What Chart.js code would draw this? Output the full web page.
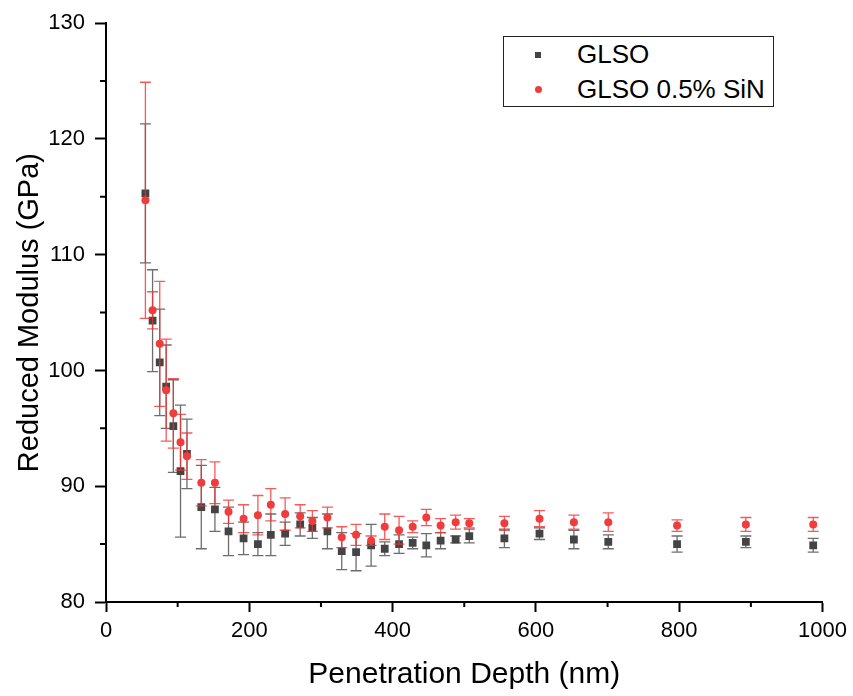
<!DOCTYPE html>
<html>
<head>
<meta charset="utf-8">
<script src="https://cdn.jsdelivr.net/npm/chart.js@4.4.0/dist/chart.umd.min.js"></script>
<style>
  body { margin: 0; background: #fff; }
  #wrap { position: relative; width: 853px; height: 696px; }
  .legend {
    position: absolute; left: 503px; top: 36px; width: 271px; height: 71px;
    border: 1px solid #222; box-sizing: border-box; background: #fff;
    font-family: 'Liberation Sans', Arial, sans-serif; font-size: 26px; color: #000;
  }
  .legend .txt { position: absolute; left: 73px; height: 30px; line-height: 30px; white-space: nowrap; }
  .legend .sq { position: absolute; left: 31px; width: 6px; height: 6px; background: #444; }
  .legend .dot { position: absolute; left: 31px; width: 7px; height: 7px; border-radius: 50%; background: #f03c3c; }
</style>
</head>
<body>
<div id="wrap">
  <canvas id="modulusChart" width="853" height="696"></canvas>
  <div class="legend">
    <span class="sq" style="top:15px"></span><span class="txt" style="top:2px">GLSO</span>
    <span class="dot" style="top:49px"></span><span class="txt" style="top:37px">GLSO 0.5% SiN</span>
  </div>
</div>
<script>
// penetration depth (nm), shared by both samples
const depth = [55, 65, 75, 84, 94, 104, 113, 133, 152, 171, 192, 212, 230, 250, 271, 288, 309,
  329, 349, 370, 389, 409, 428, 447, 467, 488, 507, 556, 605, 653, 701, 797, 893, 987];

// reduced modulus (GPa) and standard deviation
const glsoModulus = [115.3, 104.3, 100.7, 98.6, 95.2, 91.3, 92.8, 88.2, 88.0, 86.1, 85.5, 85.0, 85.8,
  85.9, 86.7, 86.4, 86.1, 84.4, 84.3, 84.9, 84.6, 85.0, 85.1, 84.9, 85.3, 85.4, 85.7, 85.5, 85.9,
  85.4, 85.2, 85.0, 85.2, 84.9];
const glsoError = [6.0, 4.4, 4.6, 3.6, 4.0, 5.7, 3.0, 3.6, 1.9, 2.1, 1.4, 1.0, 1.8, 1.0, 1.0, 0.9,
  1.5, 1.6, 1.6, 1.8, 0.6, 0.8, 0.5, 1.0, 0.7, 0.3, 0.6, 0.8, 0.5, 0.8, 0.6, 0.7, 0.5, 0.6];

const sinModulus = [114.7, 105.2, 102.3, 98.3, 96.3, 93.8, 92.6, 90.3, 90.3, 87.8, 87.2, 87.5, 88.4,
  87.6, 87.4, 87.0, 87.3, 85.6, 85.8, 85.3, 86.5, 86.2, 86.5, 87.3, 86.6, 86.9, 86.8, 86.8, 87.2,
  86.9, 86.9, 86.6, 86.7, 86.7];
const sinError = [10.2, 1.6, 5.4, 4.4, 3.0, 2.4, 2.0, 2.0, 1.8, 1.0, 1.2, 1.7, 1.4, 1.4, 1.0, 0.9,
  0.9, 0.9, 0.9, 0.4, 1.1, 1.2, 0.5, 0.7, 0.6, 0.6, 0.4, 0.6, 0.7, 0.6, 0.8, 0.5, 0.6, 0.6];

// axis ticks
const xTicks = [0, 200, 400, 600, 800, 1000];
const xMinorTicks = [100, 300, 500, 700, 900];
const yTicks = [80, 90, 100, 110, 120, 130];
const yMinorTicks = [85, 95, 105, 115, 125];

const toPoints = (ys) => depth.map((d, i) => ({ x: d, y: ys[i] }));
const fontFamily = "'Liberation Sans', Arial, sans-serif";

// error bars, drawn under each dataset's markers
const errorBars = {
  id: 'errorBars',
  beforeDatasetDraw(chart, args) {
    const ds = chart.data.datasets[args.index];
    const { ctx, scales: { x, y } } = chart;
    ctx.save();
    ctx.strokeStyle = ds.errorColor;
    ctx.lineWidth = 1.3;
    ds.data.forEach((p, i) => {
      const px = x.getPixelForValue(p.x);
      const top = y.getPixelForValue(p.y + ds.errors[i]);
      const bot = y.getPixelForValue(p.y - ds.errors[i]);
      ctx.beginPath();
      ctx.moveTo(px, top); ctx.lineTo(px, bot);
      ctx.moveTo(px - 5.5, top); ctx.lineTo(px + 5.5, top);
      ctx.moveTo(px - 5.5, bot); ctx.lineTo(px + 5.5, bot);
      ctx.stroke();
    });
    ctx.restore();
  }
};

// short minor ticks outside the axes
const minorTicks = {
  id: 'minorTicks',
  afterDraw(chart) {
    const { ctx, chartArea, scales: { x, y } } = chart;
    ctx.save();
    ctx.strokeStyle = '#000';
    ctx.lineWidth = 2;
    ctx.beginPath();
    xMinorTicks.forEach(v => {
      const px = x.getPixelForValue(v);
      ctx.moveTo(px, chartArea.bottom); ctx.lineTo(px, chartArea.bottom + 5);
    });
    yMinorTicks.forEach(v => {
      const py = y.getPixelForValue(v);
      ctx.moveTo(chartArea.left, py); ctx.lineTo(chartArea.left - 6, py);
    });
    ctx.stroke();
    ctx.restore();
  }
};

new Chart(document.getElementById('modulusChart'), {
  type: 'scatter',
  data: {
    datasets: [{
      label: 'GLSO 0.5% SiN',
      data: toPoints(sinModulus),
      errors: sinError,
      errorColor: 'rgba(240, 50, 50, 0.8)',
      pointStyle: 'circle',
      pointRadius: 4,
      pointHoverRadius: 4,
      backgroundColor: '#f03c3c',
      borderWidth: 0,
      order: 1
    }, {
      label: 'GLSO',
      data: toPoints(glsoModulus),
      errors: glsoError,
      errorColor: 'rgba(60, 60, 60, 0.75)',
      pointStyle: 'rect',
      pointRadius: 5.5,
      pointHoverRadius: 5.5,
      backgroundColor: '#444444',
      borderWidth: 0,
      order: 2
    }]
  },
  options: {
    responsive: false,
    animation: false,
    events: [],
    layout: { padding: { top: 22, right: 26.5, left: 0, bottom: 0 } },
    plugins: { legend: { display: false }, tooltip: { enabled: false } },
    scales: {
      x: {
        type: 'linear',
        min: 0, max: 1000,
        afterFit(scale) { scale.height = 94; },
        afterBuildTicks(scale) { scale.ticks = xTicks.map(v => ({ value: v })); },
        ticks: {
          color: '#000', font: { family: fontFamily, size: 22 }, padding: 6, maxRotation: 0,
          callback: (v) => String(v)
        },
        grid: { drawOnChartArea: false, tickLength: 10, tickColor: '#000', tickWidth: 2 },
        border: { color: '#000', width: 2 },
        title: {
          display: true, text: 'Penetration Depth (nm)', color: '#000',
          font: { family: fontFamily, size: 30 }, padding: { top: 0, bottom: 3 }
        }
      },
      y: {
        type: 'linear',
        min: 80, max: 130,
        afterFit(scale) { scale.width = 106; },
        afterBuildTicks(scale) { scale.ticks = yTicks.map(v => ({ value: v })); },
        ticks: { color: '#000', font: { family: fontFamily, size: 22 }, padding: 10 },
        grid: { drawOnChartArea: false, tickLength: 11, tickColor: '#000', tickWidth: 2 },
        border: { color: '#000', width: 2 },
        title: {
          display: true, text: 'Reduced Modulus (GPa)', color: '#000',
          font: { family: fontFamily, size: 29 }, padding: { top: 13, bottom: 0 }
        }
      }
    }
  },
  plugins: [errorBars, minorTicks]
});
</script>
</body>
</html>
